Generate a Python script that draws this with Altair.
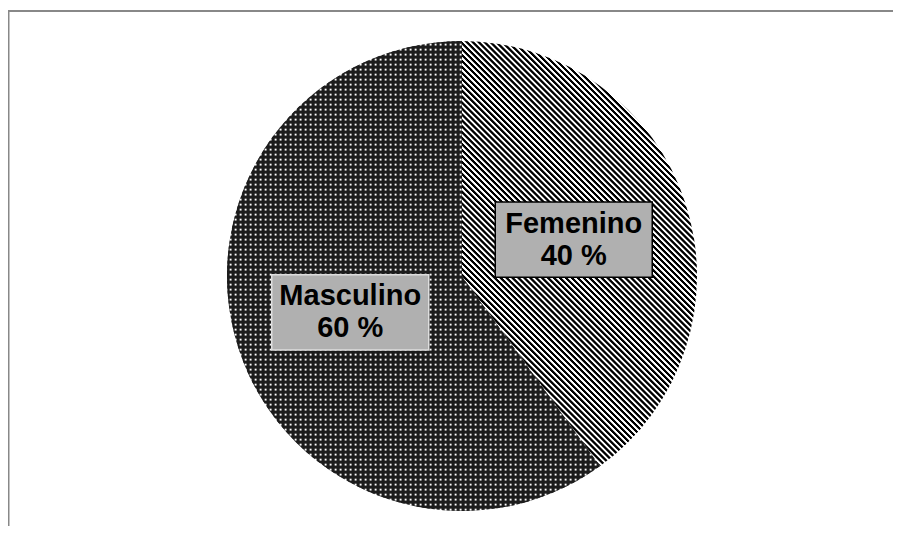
import math
import altair as alt
import pandas as pd

# ---- data ----
categories = ["Femenino", "Masculino"]
values = [40, 60]
pct_labels = ["40 %", "60 %"]
order = [0, 1]

df = pd.DataFrame({"cat": categories, "value": values, "pct": pct_labels, "order": order})

# ---- layout / style ----
W, H = 885, 518
CX, CY = 454, 268
R = 235
S2 = math.sqrt(2)


def diag_stripes(w, h, period, c1, c2):
    D = (w + h) / S2
    k = (w + h) / (w * w + h * h)
    pattern = [(0.0, c1), (0.4, c1), (0.54, c2), (0.86, c2)]
    stops = []
    j = 0
    done = False
    while not done:
        for f, c in pattern:
            off = (j + f) * period / D
            if off > 1:
                done = True
                break
            stops.append({"offset": round(off, 5), "color": c})
        j += 1
    return {"gradient": "linear", "x1": 0, "y1": 1, "x2": round(k * w, 5), "y2": round(1 - k * h, 5), "stops": stops}


def dot_stripes(length, period, horizontal, col, clear):
    pattern = [(0.0, col), (0.45, col), (0.6, clear), (0.82, clear)]
    stops = []
    j = 0
    done = False
    while not done:
        for f, c in pattern:
            off = (j + f) * period / length
            if off > 1:
                done = True
                break
            stops.append({"offset": round(off, 5), "color": c})
        j += 1
    if horizontal:
        return {"gradient": "linear", "x1": 0, "y1": 0, "x2": 1, "y2": 0, "stops": stops}
    return {"gradient": "linear", "x1": 0, "y1": 0, "x2": 0, "y2": 1, "stops": stops}


# bounding boxes of the two slices
fem_w, fem_h = R, R * (1 + math.cos(math.radians(36)))
mas_w, mas_h = R * (1 + math.sin(math.radians(36))), 2 * R

fem_fill = diag_stripes(fem_w, fem_h, 4.2, "#000000", "#ffffff")
mas_v = dot_stripes(mas_w, 5.0, True, "rgba(28,28,28,1)", "rgba(28,28,28,0)")
mas_h_grad = dot_stripes(mas_h, 5.0, False, "rgba(28,28,28,1)", "rgba(28,28,28,0)")

theta_scale = alt.Scale(domain=[0, 100], range=[0, 2 * math.pi])

base = (
    alt.Chart(df)
    .transform_window(cum="sum(value)", sort=[alt.SortField("order")], frame=[None, 0])
    .transform_calculate(
        start="datum.cum - datum.value",
        ang="2*PI*(datum.cum - datum.value/2)/100",
        label="datum.cat + '\\n' + datum.pct",
    )
    .transform_calculate(
        lx=f"{CX} + {R/2}*sin(datum.ang)",
        ly=f"{CY} - {R/2}*cos(datum.ang)",
    )
)

arc_enc = dict(
    theta=alt.Theta("start:Q", scale=theta_scale),
    theta2="cum:Q",
    x=alt.value(CX),
    y=alt.value(CY),
)

fem = base.transform_filter("datum.cat == 'Femenino'").mark_arc(radius=R, fill=fem_fill).encode(**arc_enc)
mas_white = base.transform_filter("datum.cat == 'Masculino'").mark_arc(radius=R, fill="#ffffff").encode(**arc_enc)
mas_vs = base.transform_filter("datum.cat == 'Masculino'").mark_arc(radius=R, fill=mas_v).encode(**arc_enc)
mas_hs = base.transform_filter("datum.cat == 'Masculino'").mark_arc(radius=R, fill=mas_h_grad).encode(**arc_enc)

box_shape = "M-1,-0.48L1,-0.48L1,0.48L-1,0.48Z"
boxes = base.mark_point(shape=box_shape, size=157 * 157, filled=True, fill="#b0b0b0", opacity=1, strokeWidth=1.5).encode(
    x=alt.X("lx:Q", scale=None),
    y=alt.Y("ly:Q", scale=None),
    stroke=alt.condition("datum.cat == 'Femenino'", alt.value("#000000"), alt.value("#dddddd")),
)

texts = base.mark_text(
    font="Liberation Sans", fontSize=29, fontWeight="bold", lineBreak="\n", lineHeight=32,
    align="center", baseline="middle", color="#000000", dy=-16,
).encode(
    x=alt.X("lx:Q", scale=None),
    y=alt.Y("ly:Q", scale=None),
    text="label:N",
)

frame_df = pd.DataFrame({"k": [0]})
top_line = alt.Chart(frame_df).mark_rule(color="#888888", strokeWidth=2).encode(
    x=alt.value(0), x2=alt.value(W), y=alt.value(3)
)
left_line = alt.Chart(frame_df).mark_rule(color="#888888", strokeWidth=2).encode(
    x=alt.value(0.5), y=alt.value(3), y2=alt.value(H)
)

chart = (
    alt.layer(mas_white, mas_vs, mas_hs, fem, boxes, texts, top_line, left_line)
    .properties(width=W, height=H, padding=0, autosize=alt.AutoSizeParams(type="none"))
    .configure_view(stroke=None)
)

chart.save("out.html", embed_options={"renderer": "svg", "actions": False})
